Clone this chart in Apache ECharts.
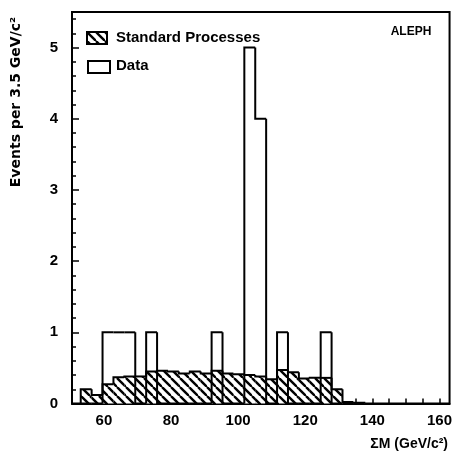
<!DOCTYPE html>
<html>
<head>
<meta charset="utf-8">
<script src="https://cdn.jsdelivr.net/npm/echarts@6/dist/echarts.min.js"></script>
<style>
  html, body { margin: 0; padding: 0; background: #fff; }
  #chart { width: 455px; height: 452px; }
</style>
</head>
<body>
<div id="chart"></div>
<script>
// histogram bins (GeV/c^2)
const binLow = 53.1;
const binWidth = 3.25;
// standard processes (hatched)
const mcValues = [0.20, 0.12, 0.27, 0.37, 0.38, 0.38, 0.45, 0.46, 0.45, 0.42, 0.45, 0.42, 0.46,
                  0.42, 0.41, 0.40, 0.38, 0.34, 0.47, 0.44, 0.35, 0.36, 0.36, 0.20, 0.02, 0.01];
// data (open)
const dataValues = [0, 0, 1, 1, 1, 0, 1, 0, 0, 0, 0, 0, 1, 0, 0, 5, 4, 0, 1, 0, 0, 0, 1, 0, 0, 0];
const xLabelValues = [60, 80, 100, 120, 140, 160];
const xTickValues = [55, 60, 65, 70, 75, 80, 85, 90, 95, 100, 105, 110, 115, 120, 125, 130, 135, 140, 145, 150, 155, 160];

const FONT = 'Liberation Sans';

// hatch pattern "\\\"
function makeHatch() {
  const s = 9;
  const c = document.createElement('canvas');
  c.width = s; c.height = s;
  const g = c.getContext('2d');
  g.fillStyle = '#fff';
  g.fillRect(0, 0, s, s);
  g.strokeStyle = '#000';
  g.lineWidth = 2.4;
  [-s, 0, s].forEach(function (o) {
    g.beginPath();
    g.moveTo(o, 0);
    g.lineTo(o + s, s);
    g.stroke();
  });
  return c;
}
const hatch = { image: makeHatch(), repeat: 'repeat' };

function toBins(values) {
  return values.map(function (v, k) {
    const prev = k > 0 ? values[k - 1] : 0;
    const last = k === values.length - 1 ? 1 : 0;
    return [binLow + k * binWidth, binLow + (k + 1) * binWidth, v, prev, last];
  });
}

function histRender(filled) {
  return function (params, api) {
    const x0 = api.value(0), x1 = api.value(1), v = api.value(2), prev = api.value(3), last = api.value(4);
    const a = api.coord([x0, v]);
    const b = api.coord([x1, 0]);
    const p = api.coord([x0, prev]);
    const q = api.coord([x1, v]);
    const children = [];
    if (filled && v > 0) {
      children.push({
        type: 'rect',
        shape: { x: a[0], y: a[1], width: b[0] - a[0], height: b[1] - a[1] },
        style: { fill: hatch }
      });
    }
    const pts = [p, a, q];
    if (last) pts.push(b);
    children.push({
      type: 'polyline',
      shape: { points: pts },
      style: { fill: null, stroke: '#000', lineWidth: 2 }
    });
    return { type: 'group', children: children };
  };
}

const chart = echarts.init(document.getElementById('chart'));
chart.setOption({
  backgroundColor: '#fff',
  animation: false,
  grid: {
    left: 72, right: 4, top: 12, bottom: 48.5,
    show: true, borderColor: '#000', borderWidth: 2
  },
  xAxis: {
    type: 'value',
    min: 50.5, max: 163,
    splitLine: { show: false },
    axisLine: { lineStyle: { color: '#000', width: 2 } },
    axisTick: { inside: true, length: 5, customValues: xTickValues, lineStyle: { color: '#000', width: 1.5 } },
    axisLabel: {
      customValues: xLabelValues, margin: 10,
      color: '#000', fontFamily: FONT, fontWeight: 'bold', fontSize: 15
    }
  },
  yAxis: {
    type: 'value',
    min: 0, max: 5.5, interval: 1,
    splitLine: { show: false },
    axisLine: { lineStyle: { color: '#000', width: 2 } },
    axisTick: { inside: true, length: 7, lineStyle: { color: '#000', width: 1.5 } },
    minorTick: { show: true, splitNumber: 5, length: 4, lineStyle: { color: '#000', width: 1.5 } },
    axisLabel: {
      margin: 14, color: '#000', fontFamily: FONT, fontWeight: 'bold', fontSize: 15,
      showMaxLabel: false
    }
  },
  series: [
    {
      type: 'custom',
      name: 'Standard Processes',
      renderItem: histRender(true),
      data: toBins(mcValues),
      encode: { x: [0, 1], y: 2 },
      z: 2
    },
    {
      type: 'custom',
      name: 'Data',
      renderItem: histRender(false),
      data: toBins(dataValues),
      encode: { x: [0, 1], y: 2 },
      z: 3
    }
  ],
  graphic: [
    {
      type: 'rect', left: 86, top: 31,
      shape: { width: 20, height: 12 },
      style: { fill: hatch, stroke: '#000', lineWidth: 2 }
    },
    {
      type: 'text', x: 116, y: 38,
      style: { text: 'Standard Processes', fill: '#000', font: 'bold 15px "Liberation Sans"', verticalAlign: 'middle' }
    },
    {
      type: 'rect', left: 87, top: 60,
      shape: { width: 22, height: 12 },
      style: { fill: '#fff', stroke: '#000', lineWidth: 2 }
    },
    {
      type: 'text', x: 116, y: 66,
      style: { text: 'Data', fill: '#000', font: 'bold 15px "Liberation Sans"', verticalAlign: 'middle' }
    },
    {
      type: 'text', x: 411, y: 32,
      style: { text: 'ALEPH', fill: '#000', font: 'bold 12px "Liberation Sans"', align: 'center', verticalAlign: 'middle' }
    },
    {
      type: 'text', x: 16, y: 102, rotation: Math.PI / 2,
      style: { text: 'Events per 3.5 GeV/c²', fill: '#000', font: 'bold 14px "DejaVu Sans"', align: 'center', verticalAlign: 'middle' }
    },
    {
      type: 'text', x: 448, y: 444,
      style: { text: 'ΣM (GeV/c²)', fill: '#000', font: 'bold 14px "Liberation Sans"', align: 'right', verticalAlign: 'middle' }
    }
  ]
});
</script>
</body>
</html>
